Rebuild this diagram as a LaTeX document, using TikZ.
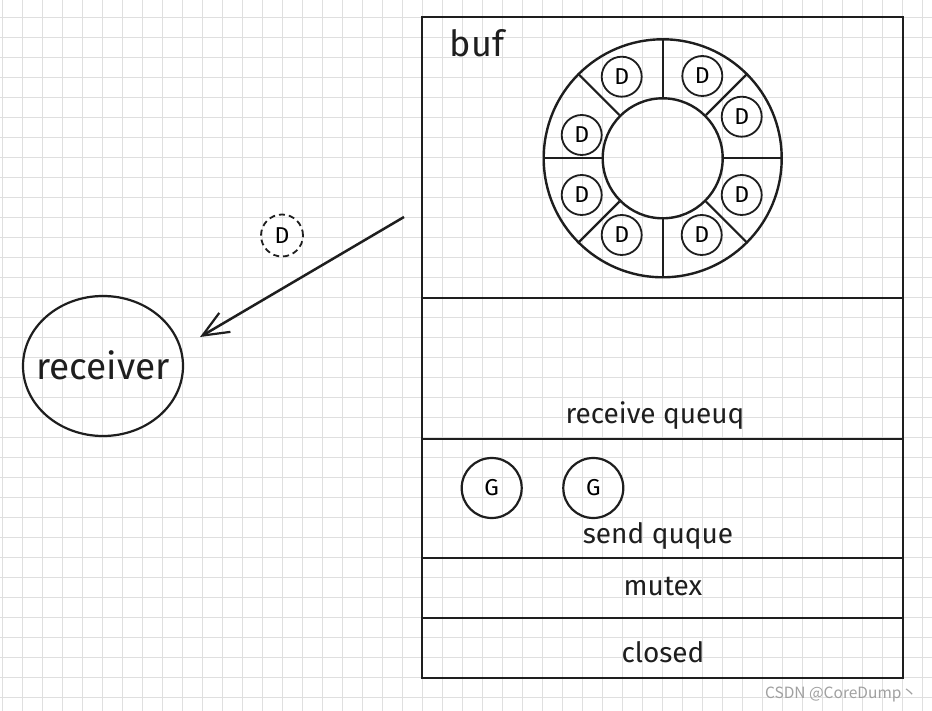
\documentclass[tikz,border=0pt]{standalone}
\usepackage{fontspec}
\setmainfont{Fira Sans}
\newfontfamily\cjk{Noto Sans CJK SC}
\usetikzlibrary{shapes.geometric,arrows.meta}
\definecolor{gridc}{HTML}{DFDFDF}
\definecolor{ink}{HTML}{1E1E1E}
\definecolor{wm}{HTML}{A0A0A0}
\tikzset{
  gridline/.style={draw=gridc, line width=1pt},
  boxline/.style={draw=ink, line width=2.6pt},
  dcirc/.style={circle, draw=ink, line width=1.8pt, minimum size=40pt, inner sep=0pt, font=\fontsize{23}{23}\selectfont},
  gcirc/.style={circle, draw=ink, line width=2.2pt, minimum size=60pt, inner sep=0pt, font=\fontsize{23}{23}\selectfont},
  ringc/.style={circle, draw=ink, line width=2.4pt, inner sep=0pt},
  lbl/.style={anchor=base, inner sep=0pt, font=\fontsize{28}{28}\selectfont, text=ink},
}
\begin{document}
\begin{tikzpicture}[x=1pt,y=-1pt]
\useasboundingbox (0,0) rectangle (932,711);
\fill[white] (0,0) rectangle (932,711);
% grid
\foreach \gx in {2.3,22.3,...,930} \draw[gridline] (\gx,0) -- (\gx,711);
\foreach \gy in {17.7,37.7,...,711} \draw[gridline] (0,\gy) -- (932,\gy);
% channel box
\draw[boxline] (422,17) rectangle (903,678);
\foreach \yy in {298,439,558,618} \draw[boxline] (422,\yy) -- (903,\yy);
% labels
\node[lbl, font=\fontsize{36}{36}\selectfont] (buf) at (477,57) {buf};
\node[lbl] (rq) at (655,423) {receive queuq};
\node[lbl] (sq) at (658,543) {send quque};
\node[lbl] (mx) at (663,595) {mutex};
\node[lbl] (cl) at (663,662) {closed};
% ring buffer
\node[ringc, minimum size=238pt] (ringout) at (662.7,158.3) {};
\node[ringc, minimum size=120pt] (ringin) at (662.7,158.3) {};
\foreach \a in {0,45,...,315} \draw[ink, line width=2.2pt] (ringin.\a) -- (ringout.\a);
\node[dcirc] (d1) at (621.7,76.7) {D};
\node[dcirc] (d2) at (702.3,76) {D};
\node[dcirc] (d3) at (741.7,116.7) {D};
\node[dcirc] (d4) at (581.7,135) {D};
\node[dcirc] (d5) at (581.7,195) {D};
\node[dcirc] (d6) at (621.7,235) {D};
\node[dcirc] (d7) at (701.7,235) {D};
\node[dcirc] (d8) at (741.7,195) {D};
% send queue goroutines
\node[gcirc] (g1) at (491.7,488) {G};
\node[gcirc] (g2) at (593.3,488) {G};
% receiver
\node[ellipse, draw=ink, line width=2.2pt, minimum width=160pt, minimum height=140pt, inner sep=0pt] (recv) at (103,366) {};
\node[lbl, font=\fontsize{37}{37}\selectfont] (recvt) at (103,379) {receiver};
% dashed D in transit
\node[dcirc, dashed, dash pattern=on 6pt off 4pt, minimum size=42pt] (dt) at (282,235.5) {D};
% arrow
\coordinate (arrS) at (404,217);
\coordinate (arrE) at (200,337);
\draw[ink, line width=2.5pt, -{Straight Barb[length=26pt,width=22pt,line width=2.2pt]}] (arrS) -- (arrE);
% watermark
\node[anchor=base, inner sep=0pt, text=wm, font=\cjk\fontsize{15.5}{15.5}\selectfont] (wmk) at (841,698) {CSDN @CoreDump丶};
\end{tikzpicture}
\end{document}
